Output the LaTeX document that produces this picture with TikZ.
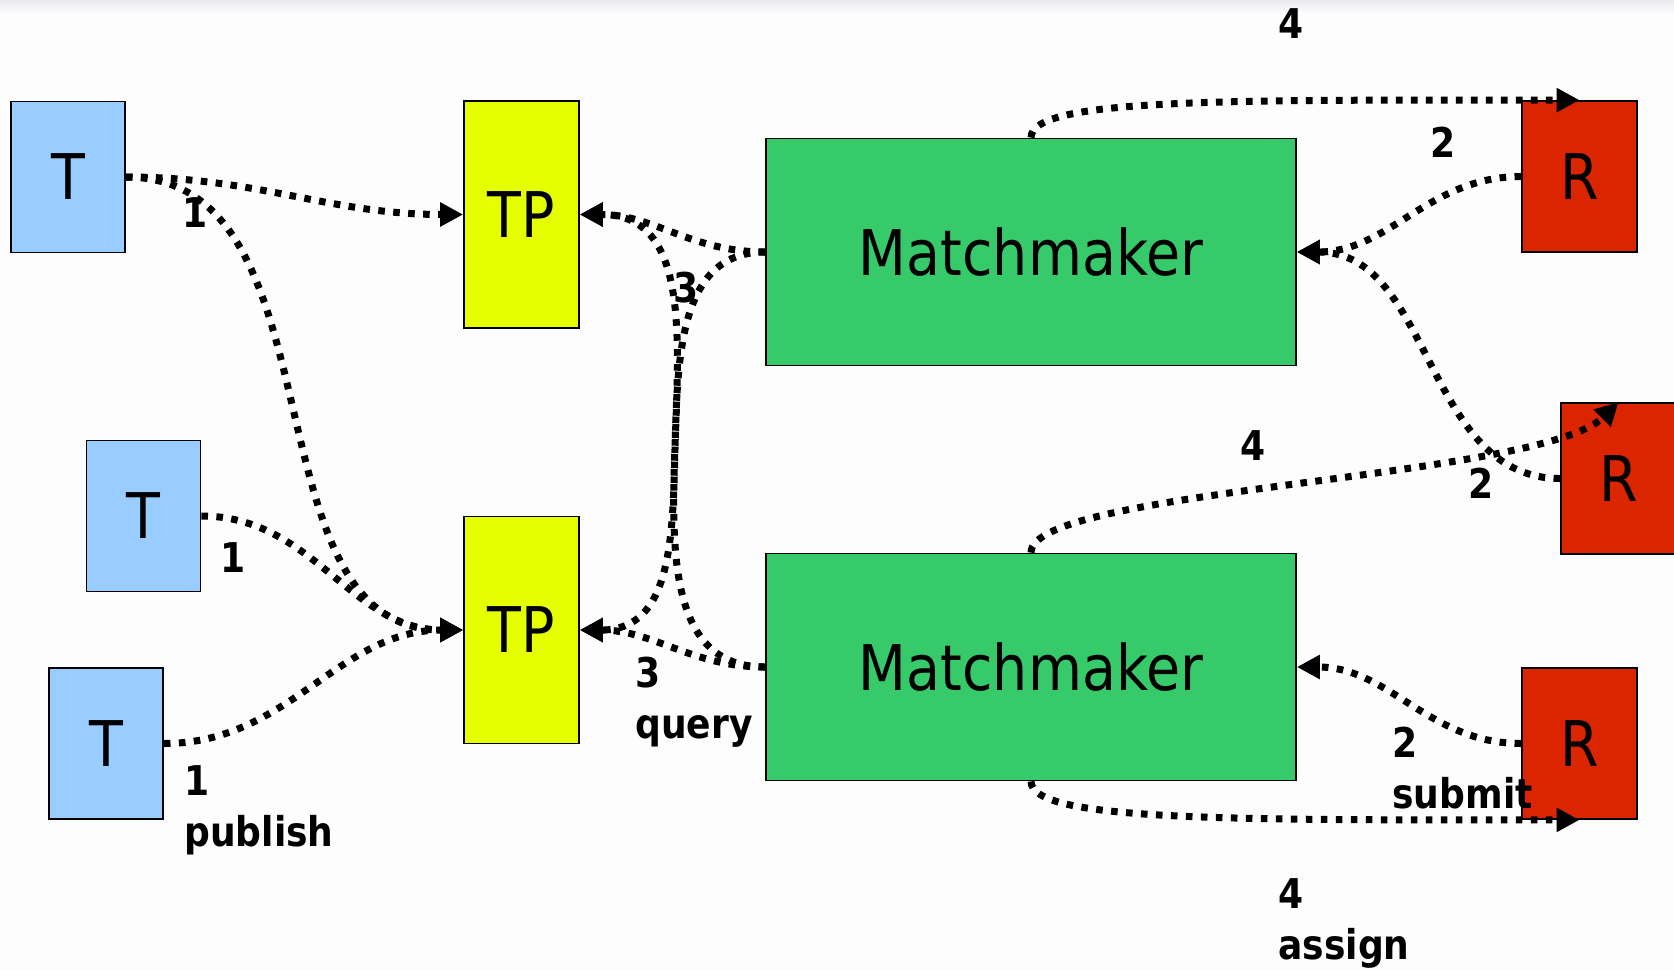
\documentclass[tikz,border=0pt]{standalone}
\usepackage{fontspec}
\setmainfont{DejaVu Sans}[FakeStretch=0.88]
\usetikzlibrary{arrows.meta}

\definecolor{tcol}{HTML}{99CCFF}
\definecolor{tpcol}{HTML}{E6FF00}
\definecolor{mmcol}{HTML}{36CA6A}
\definecolor{rcol}{HTML}{DB2500}
\definecolor{bgcol}{HTML}{FDFDFD}
\definecolor{bandcol}{HTML}{E9E9EF}

\begin{document}
\begin{tikzpicture}[x=0.5pt,y=0.5pt,
    box/.style={draw,line width=0.9pt,inner sep=0pt,font=\fontsize{31.5}{36}\selectfont},
    tbox/.style={box,fill=tcol,minimum width=57pt,minimum height=75.5pt},
    tpbox/.style={box,fill=tpcol,minimum width=57.5pt,minimum height=113.5pt},
    mmbox/.style={box,fill=mmcol,minimum width=265pt,minimum height=113.5pt},
    rbox/.style={box,fill=rcol,minimum width=57.5pt,minimum height=75.5pt},
    flow/.style={line width=3.5pt,dash pattern=on 3.3pt off 4.2pt,
        -{Triangle[length=11.5pt,width=11.5pt]}},
    lbl/.style={font=\fontsize{20.5}{25.5}\selectfont\bfseries,inner sep=0pt,align=left}]

    % page
    \fill[bgcol] (0,0) rectangle (1674,-970);
    \shade[top color=bandcol,bottom color=bgcol] (0,0) rectangle (1674,-14);
    \useasboundingbox (0,0) rectangle (1674,-970);

    % boxes
    \foreach \name/\x/\y in {t1/68/-177, t2/143.5/-516, t3/106/-743.5} {
        \node[tbox] (\name) at (\x,\y) {T};
    }
    \node[tpbox] (tp1) at (521.5,-214.5) {TP};
    \node[tpbox] (tp2) at (521.5,-630) {TP};
    \node[mmbox] (mm1) at (1031,-252) {Matchmaker};
    \node[mmbox] (mm2) at (1031,-667) {Matchmaker};
    \foreach \name/\x/\y in {r1/1579.5/-176.5, r2/1618.5/-478.5, r3/1579.5/-743.5} {
        \node[rbox] (\name) at (\x,\y) {R};
    }

    % publish
    \draw[flow] (t1.east) to[out=0,in=180] (tp1.west);
    \draw[flow] (t1.east) to[out=0,in=180] (tp2.west);
    \draw[flow] (t2.east) to[out=0,in=180] (tp2.west);
    \draw[flow] (t3.east) to[out=0,in=180] (tp2.west);
    % query
    \draw[flow] (mm1.west) to[out=180,in=0] (tp1.east);
    \draw[flow] (mm1.west) to[out=180,in=0] (tp2.east);
    \draw[flow] (mm2.west) to[out=180,in=0] (tp2.east);
    \draw[flow] (mm2.west) to[out=180,in=0] (tp1.east);
    % submit
    \draw[flow] (r1.west) to[out=180,in=0] (mm1.east);
    \draw[flow] (r2.west) to[out=180,in=0] (mm1.east);
    \draw[flow] (r3.west) to[out=180,in=0] (mm2.east);
    % assign
    \draw[flow] (mm1.north) .. controls +(0,40) and +(-350,0) .. (r1.north);
    \draw[flow] (mm2.north) .. controls +(0,64) and +(-78,-77) .. (r2.north);
    \draw[flow] (mm2.south) .. controls +(0,-40) and +(-350,0) .. (r3.south);

    % step labels
    \node[lbl] (p1) at (195,-213) {1};
    \node[lbl] (p2) at (233,-558) {1};
    \node[lbl,anchor=north west] (p3) at (184,-765) {1\\publish};
    \node[lbl] (q1) at (686,-288) {3};
    \node[lbl,anchor=north west] (q2) at (635,-657) {3\\query};
    \node[lbl] (s1) at (1443,-142) {2};
    \node[lbl] (s2) at (1481,-483) {2};
    \node[lbl,anchor=north west] (s3) at (1392,-727) {2\\submit};
    \node[lbl] (a1) at (1291,-24) {4};
    \node[lbl] (a2) at (1253,-446) {4};
    \node[lbl,anchor=north west] (a3) at (1278,-878) {4\\assign};
\end{tikzpicture}
\end{document}
